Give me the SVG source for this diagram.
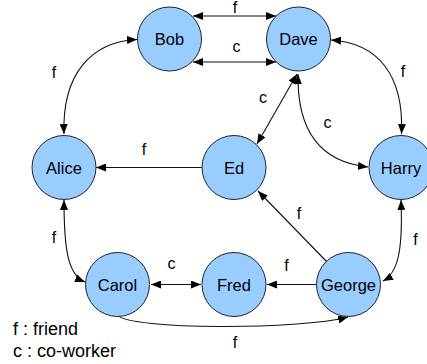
<svg xmlns="http://www.w3.org/2000/svg" width="427" height="364" viewBox="0 0 427 364">
<style>
.node circle{fill:#99ccff;stroke:#222;stroke-width:1}
.node text{font-family:"Liberation Sans",Arial,sans-serif;font-size:16.5px;fill:#000;text-anchor:middle}
.edge{fill:none;stroke:#111;stroke-width:1.1}
.lbl{font-family:"Liberation Sans",Arial,sans-serif;font-size:16px;fill:#000;text-anchor:middle}
.legend{font-family:"Liberation Sans",Arial,sans-serif;font-size:18px;fill:#000}
</style>
<defs>
<marker id="ah" viewBox="0 0 10 8" refX="10" refY="4" markerWidth="10" markerHeight="8" markerUnits="userSpaceOnUse" orient="auto-start-reverse">
<path d="M0,0 L10,4 L0,8 z" fill="#000"/>
</marker>
</defs>
<g id="connectors">
<line class="edge" x1="193" y1="16" x2="276" y2="16" marker-start="url(#ah)" marker-end="url(#ah)"/>
<line class="edge" x1="193" y1="62" x2="276" y2="62" marker-start="url(#ah)" marker-end="url(#ah)"/>
<path class="edge" d="M137 39.5 C90 42 62 75 64 134" marker-start="url(#ah)" marker-end="url(#ah)"/>
<path class="edge" d="M331 40 C378 43 404 75 401.5 134" marker-start="url(#ah)" marker-end="url(#ah)"/>
<line class="edge" x1="297" y1="74" x2="257" y2="144" marker-start="url(#ah)" marker-end="url(#ah)"/>
<path class="edge" d="M298 74 C297 130 320 162 368 167" marker-start="url(#ah)" marker-end="url(#ah)"/>
<line class="edge" x1="202" y1="167.5" x2="96" y2="167.5" marker-end="url(#ah)"/>
<line class="edge" x1="327" y1="262" x2="258" y2="191" marker-end="url(#ah)"/>
<path class="edge" d="M64 200 C64 250 68 275 85 282" marker-start="url(#ah)" marker-end="url(#ah)"/>
<path class="edge" d="M401 200 C403 250 398 273 383 281" marker-start="url(#ah)" marker-end="url(#ah)"/>
<line class="edge" x1="151" y1="284.5" x2="201" y2="284.5" marker-start="url(#ah)" marker-end="url(#ah)"/>
<line class="edge" x1="316" y1="284.5" x2="267" y2="284.5" marker-end="url(#ah)"/>
<path class="edge" d="M117 315 C130 330 300 330 348 317" marker-end="url(#ah)"/>
<text class="lbl" x="235" y="13">f</text>
<text class="lbl" x="236.5" y="52">c</text>
<text class="lbl" x="54" y="78">f</text>
<text class="lbl" x="403" y="77">f</text>
<text class="lbl" x="263" y="103">c</text>
<text class="lbl" x="327.5" y="128">c</text>
<text class="lbl" x="144" y="155">f</text>
<text class="lbl" x="299" y="219">f</text>
<text class="lbl" x="54" y="243">f</text>
<text class="lbl" x="415.5" y="245">f</text>
<text class="lbl" x="171.5" y="269">c</text>
<text class="lbl" x="286.5" y="270.5">f</text>
<text class="lbl" x="235" y="348">f</text>
</g>
<g id="Bob" class="node"><circle cx="169.5" cy="39" r="32"/><text x="169.5" y="45">Bob</text></g>
<g id="Dave" class="node"><circle cx="298.5" cy="39" r="32"/><text x="298.5" y="45">Dave</text></g>
<g id="Alice" class="node"><circle cx="64" cy="167.5" r="32"/><text x="64" y="173.5">Alice</text></g>
<g id="Ed" class="node"><circle cx="234" cy="167.5" r="32"/><text x="234" y="173.5">Ed</text></g>
<g id="Harry" class="node"><circle cx="401" cy="167.5" r="32"/><text x="401" y="173.5">Harry</text></g>
<g id="Carol" class="node"><circle cx="117.5" cy="284.5" r="32"/><text x="117.5" y="290.5">Carol</text></g>
<g id="Fred" class="node"><circle cx="234" cy="284.5" r="32"/><text x="234" y="290.5">Fred</text></g>
<g id="George" class="node"><circle cx="348.5" cy="284.5" r="32"/><text x="348.5" y="290.5">George</text></g>
<g id="legend">
<text class="legend" x="13" y="335">f : friend</text>
<text class="legend" x="13" y="356.5">c : co-worker</text>
</g>
</svg>
